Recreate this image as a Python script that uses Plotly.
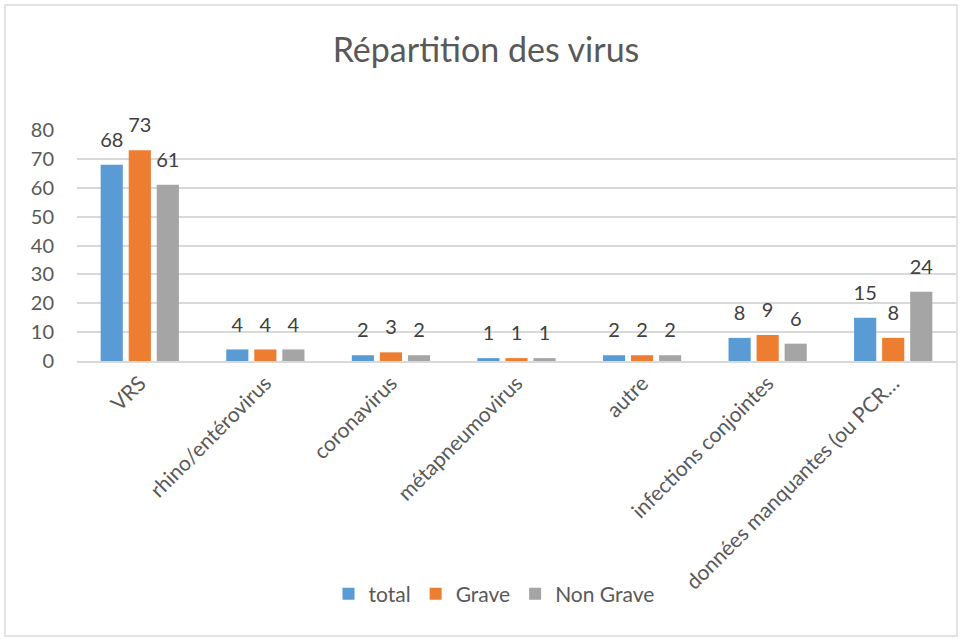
import plotly.graph_objects as go

categories = ["VRS", "rhino/entérovirus", "coronavirus", "métapneumovirus", "autre",
              "infections conjointes", "données manquantes (ou PCR…"]
total = [68, 4, 2, 1, 2, 8, 15]
grave = [73, 4, 3, 1, 2, 9, 8]
non_grave = [61, 4, 2, 1, 2, 6, 24]
series_names = ["total", "Grave", "Non Grave"]
colors = ["#5B9BD5", "#ED7D31", "#A5A5A5"]
y_ticks = [0, 10, 20, 30, 40, 50, 60, 70, 80]

FONT = "Lato"
BARGAP = 0.33
fig = go.Figure()
for name, vals, col in zip(series_names, [total, grave, non_grave], colors):
    fig.add_trace(go.Bar(
        x=categories, y=vals, name=name, marker=dict(color=col, line=dict(width=0)),
        offsetgroup=name, cliponaxis=False,
    ))
for name, vals in zip(series_names, [total, grave, non_grave]):
    fig.add_trace(go.Scatter(
        x=categories, y=vals, mode="markers+text", text=[str(v) for v in vals],
        marker=dict(size=19, color="rgba(0,0,0,0)"),
        textposition="top center", offsetgroup=name, showlegend=False,
        textfont=dict(family=FONT, size=20, color="#404040"),
        cliponaxis=False, hoverinfo="skip",
    ))

PW, PH = 879, 231
fig.update_layout(
    width=972, height=639,
    margin=dict(l=77, r=16, t=130, b=278),
    paper_bgcolor="white", plot_bgcolor="white",
    barmode="group", bargap=BARGAP, bargroupgap=0.21,
    scattermode="group", scattergap=BARGAP,
    title=dict(text="Répartition des virus", x=0.5, xanchor="center", y=1 - 50 / 639, yanchor="middle",
               font=dict(family=FONT, size=34, color="#595959")),
    font=dict(family=FONT, color="#595959"),
    legend=dict(orientation="h", x=(494 - 77) / PW, xanchor="center", y=(361 - 594) / PH, yanchor="middle",
                font=dict(family=FONT, size=21, color="#595959"), traceorder="normal",
                itemwidth=30),
    showlegend=True,
    shapes=[dict(type="rect", xref="paper", yref="paper",
                 x0=(5 - 77) / PW, x1=(957 - 77) / PW, y0=(361 - 636) / PH, y1=(361 - 5) / PH,
                 line=dict(color="#D9D9D9", width=1.5), layer="below")],
)
fig.update_xaxes(tickangle=-45, tickfont=dict(family=FONT, size=21, color="#595959"),
                 showline=True, linecolor="#D9D9D9", linewidth=1.5, ticks="", showgrid=False,
                 automargin=False)
fig.update_yaxes(range=[0, 80], tickvals=y_ticks, showgrid=True, gridcolor="#D9D9D9", gridwidth=1.5,
                 zeroline=False, ticks="", showline=False, automargin=False,
                 tickfont=dict(family=FONT, size=20, color="#595959"), ticklabelstandoff=22)

fig.write_html("out.html", config={"displayModeBar": False},
               post_script="document.body.style.margin='0';document.body.style.overflow='hidden';")
